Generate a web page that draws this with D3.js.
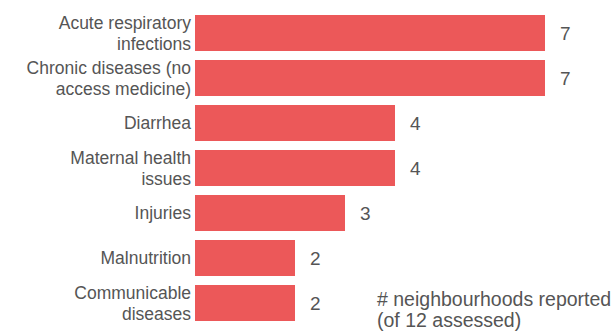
<!DOCTYPE html>
<html>
<head>
<meta charset="utf-8">
<script src="https://cdn.jsdelivr.net/npm/d3@7"></script>
<style>
  body { margin: 0; background: white; }
  text { font-family: "Liberation Sans", Arial, sans-serif; fill: #555555; }
</style>
</head>
<body>
<div id="container"></div>
<script>
let w = 612;
let h = 334;
let barColor = "#ec5859";

// data
let categories = [
  ["Acute respiratory", "infections"],
  ["Chronic diseases (no", "access medicine)"],
  ["Diarrhea"],
  ["Maternal health", "issues"],
  ["Injuries"],
  ["Malnutrition"],
  ["Communicable", "diseases"]
];
let values = [7, 7, 4, 4, 3, 2, 2];
let legendLines = ["# neighbourhoods reported", "(of 12 assessed)"];

let data = values.map(function(v, i){ return { label: categories[i], value: v, key: categories[i].join(" ") }; });

let viz = d3.select("#container")
  .append("svg")
    .attr("width", w)
    .attr("height", h)
    .style("background-color", "white")
;

let x0 = 195;

let xScale = d3.scaleLinear()
  .domain([0, 7])
  .range([x0, 545])
;

let yScale = d3.scaleBand()
  .domain(data.map(d => d.key))
  .range([10.5, 325.5])
  .paddingInner(0.2)
  .paddingOuter(0.1)
;

let rows = viz.selectAll(".row").data(data).enter()
  .append("g")
    .attr("class", "row")
    .attr("transform", d => "translate(0," + yScale(d.key) + ")")
;

rows.append("rect")
  .attr("x", xScale(0))
  .attr("y", 0)
  .attr("width", d => xScale(d.value) - xScale(0))
  .attr("height", yScale.bandwidth())
  .attr("fill", barColor)
;

// category labels, one or two lines
let lineGap = 21;
rows.append("text")
  .attr("text-anchor", "end")
  .attr("font-size", 17.5)
  .each(function(d){
    let t = d3.select(this);
    let n = d.label.length;
    d.label.forEach(function(line, j){
      t.append("tspan")
        .attr("x", x0 - 4)
        .attr("y", yScale.bandwidth()/2 + (j - (n-1)/2) * lineGap)
        .attr("dy", "0.35em")
        .text(line);
    });
  })
;

// value labels
rows.append("text")
  .attr("x", d => xScale(d.value) + 15)
  .attr("y", yScale.bandwidth()/2)
  .attr("dy", "0.35em")
  .attr("font-size", 19)
  .text(d => d.value)
;

// note
viz.append("text")
  .attr("font-size", 19.5)
  .selectAll("tspan").data(legendLines).enter()
  .append("tspan")
    .attr("x", 377)
    .attr("y", (d, i) => 306 + i * 21)
    .text(d => d)
;
</script>
</body>
</html>
